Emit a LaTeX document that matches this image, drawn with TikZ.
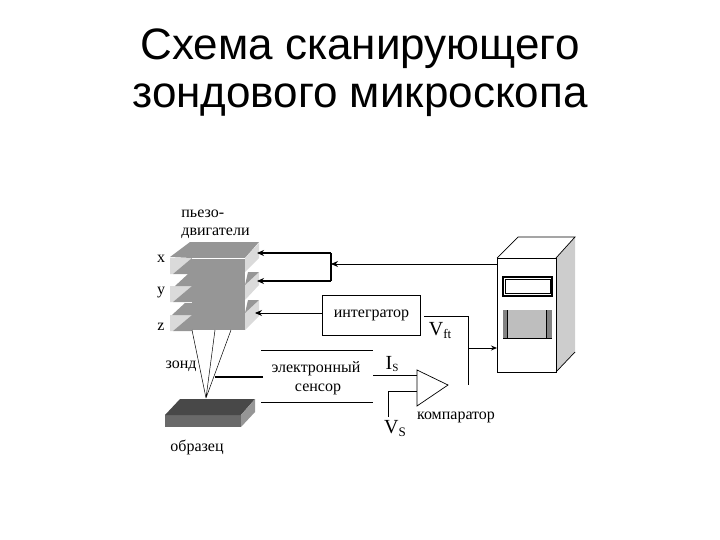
\documentclass[tikz,border=0pt]{standalone}
\usepackage{fontspec}
\setmainfont{Liberation Serif}
\newfontfamily\titlefont{Liberation Sans}
\usepackage{tikz}
\usetikzlibrary{arrows.meta}
\definecolor{platetop}{RGB}{150,150,150}
\definecolor{plateside}{RGB}{218,218,218}
\definecolor{sampletop}{RGB}{72,72,72}
\definecolor{samplefront}{RGB}{105,105,105}
\definecolor{sampleside}{RGB}{150,150,150}
\definecolor{caseside}{RGB}{205,205,205}
\definecolor{screen}{RGB}{190,190,190}
\definecolor{screenedge}{RGB}{130,130,130}

\begin{document}
\begin{tikzpicture}[x=1pt,y=-1pt,thick,
    label/.style={inner sep=0pt,font=\fontsize{16}{18}\selectfont},
    sym/.style={inner sep=0pt,font=\fontsize{20}{22}\selectfont},
    wire/.style={draw,line width=0.9pt},
    heavy/.style={draw,line width=1.6pt},
    tip/.style={-{Stealth[length=7pt,width=6pt]}}]
    \useasboundingbox (0,0) rectangle (720,540);
    \node[inner sep=0pt,align=center,font=\titlefont\fontsize{44}{48}\selectfont] (title) at (360,73) {Схема сканирующего\\зондового микроскопа};
    % piezo stack
    \fill[platetop] (192,258) rectangle (245,330);
    \fill[platetop] (170,257) -- (190,242) -- (259,242) -- (245,258) -- (192,258) -- cycle;
    \foreach \ya in {258,286,315}
        \fill[plateside] (170,\ya) -- (192,\ya) -- (173,\ya+16) -- (170,\ya+16) -- cycle;
    \foreach \ya in {258,286,315}
        \fill[platetop] (173,\ya+16) -- (192,\ya) -- (192,\ya+16) -- cycle;
    \fill[platetop] (175,286) -- (188,274) -- (192,274) -- (192,286) -- cycle;
    \fill[platetop] (172,315) -- (185,303) -- (192,303) -- (192,315) -- cycle;
    \fill[plateside] (245,258) -- (259,243) -- (259,258) -- (245,272) -- cycle;
    \fill[plateside] (245,285) -- (259,272) -- (259,285) -- (245,300) -- cycle;
    \fill[plateside] (245,313) -- (259,300) -- (259,316) -- (245,330) -- cycle;
    \fill[platetop] (245,285) -- (248,272) -- (259,272) -- cycle;
    \fill[platetop] (245,313) -- (248,300) -- (259,300) -- cycle;
    \draw[white,line width=0.8pt] (192,258) -- (245,258);
    % sample
    \fill[samplefront] (165,415) rectangle (241,427);
    \fill[sampletop] (165,415) -- (180,399) -- (255,399) -- (241,415) -- cycle;
    \fill[sampleside] (241,415) -- (255,399) -- (255,412) -- (241,427) -- cycle;
    % labels
    \node[label,anchor=west] (piezo) at (181,214) {пьезо-};
    \node[label,anchor=west] (motors) at (181,233) {двигатели};
    \node[label] (x) at (161,259) {x};
    \node[label] (y) at (161,293) {y};
    \node[label] (z) at (161,327) {z};
    \node[label] (probe) at (181,366) {зонд};
    \node[label] (sample) at (197,447) {образец};
    \node[label] (sensor) at (316,369) {электронный};
    \node[label] (sensorb) at (318,389) {сенсор};
    % integrator
    \node[draw,line width=0.8pt,minimum width=98pt,minimum height=40pt,label] (integrator) at (371.5,315) {интегратор};
    \node[sym] (vft) at (440,331) {V\raisebox{-3pt}{\fontsize{13}{14}\selectfont ft}};
    \node[sym] (is) at (392,364) {I\raisebox{-2pt}{\fontsize{11}{12}\selectfont S}};
    \node[sym] (vs) at (395,429) {V\raisebox{-3pt}{\fontsize{13}{14}\selectfont S}};
    \node[label] (comparator) at (456,417) {компаратор};
    % probe lines
    \coordinate (tip) at (206,398);
    \coordinate (p1) at (192,330);
    \coordinate (p2) at (215,330);
    \coordinate (p3) at (231,330);
    \coordinate (stuba) at (263,377);
    \coordinate (stubb) at (215,377);
    \path[wire,line width=0.5pt] (p1) -- (tip) (p2) -- (tip) (p3) -- (tip);
    \draw[heavy] (stuba) -- (stubb);
    % sensor lines
    \coordinate (s1) at (261,350);
    \coordinate (s2) at (373,350);
    \coordinate (s3) at (261,402);
    \coordinate (s4) at (373,402);
    \draw[wire] (s1) -- (s2);
    \draw[wire] (s3) -- (s4);
    % wiring to the stack
    \coordinate (xend) at (257,253);
    \coordinate (yend) at (257,281);
    \coordinate (zend) at (255,313);
    \coordinate (busa) at (331,253);
    \coordinate (busb) at (331,281);
    \coordinate (busm) at (331,264);
    \coordinate (casein) at (497,264);
    \draw[heavy,tip] (busa) -- (xend);
    \draw[heavy,tip] (busb) -- (yend);
    \draw[heavy] (busa) -- (busb);
    \draw[wire,tip] (casein) -- (busm);
    \draw[wire,tip] (integrator.west |- zend) -- (zend);
    % comparator
    \coordinate (ca) at (417,370);
    \coordinate (cb) at (417,406);
    \coordinate (cc) at (448,385);
    \draw[line width=0.7pt] (ca) -- (cc) -- (cb) -- cycle;
    \coordinate (isin) at (373,375);
    \coordinate (isend) at (417,375);
    \coordinate (vsin) at (388,417);
    \coordinate (vscorner) at (388,391);
    \coordinate (vsend) at (417,391);
    \draw[wire] (isin) -- (isend);
    \draw[wire] (vsin) -- (vscorner) -- (vsend);
    % feedback
    \coordinate (fta) at (424,316);
    \coordinate (ftb) at (468,316);
    \coordinate (ftc) at (468,385);
    \coordinate (fto) at (468,348);
    \coordinate (ftin) at (497,348);
    \draw[wire] (fta) -- (ftb) -- (ftc);
    \draw[wire,-{Stealth[length=6pt,width=5pt]}] (fto) -- (ftin);
    % computer
    \fill[caseside] (556,258) -- (575,237) -- (575,352) -- (556,372) -- cycle;
    \draw[line width=0.7pt] (497,258) rectangle (556,372);
    \draw[line width=0.7pt] (497,258) -- (518,237) -- (575,237) -- (556,258);
    \draw[line width=0.7pt] (556,372) -- (575,352);
    \draw[line width=1.1pt] (503,277) rectangle (552,296);
    \draw[line width=0.4pt] (505,279.5) rectangle (550,293.5);
    \fill[screen] (503,310) rectangle (552,338);
    \fill[screenedge] (503,310) rectangle (507,338);
    \fill[screenedge] (546,310) rectangle (552,338);
    \draw[line width=0.7pt] (507,310) -- (507,338) (546,310) -- (546,338) (503,338) -- (552,338);
\end{tikzpicture}
\end{document}
